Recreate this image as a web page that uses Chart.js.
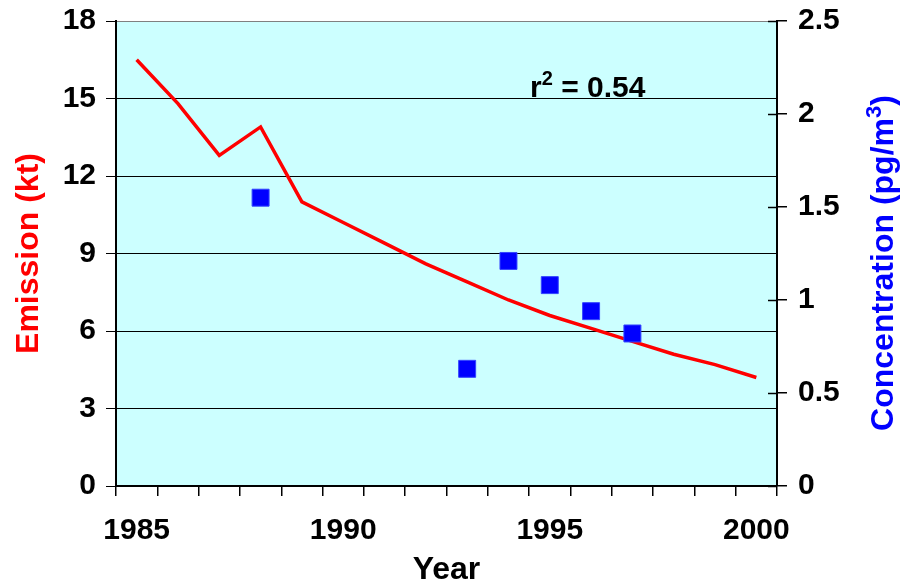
<!DOCTYPE html>
<html>
<head>
<meta charset="utf-8">
<script src="https://cdn.jsdelivr.net/npm/chart.js@4.4.1/dist/chart.umd.min.js"></script>
<style>
body{margin:0;background:#fff;}
#wrap{width:900px;height:586px;}
</style>
</head>
<body>
<div id="wrap"><canvas id="emChart" width="900" height="586"></canvas></div>
<script>
// data
const years = ["1985","1986","1987","1988","1989","1990","1991","1992","1993","1994","1995","1996","1997","1998","1999","2000"];
const emission = [16.5,14.8,12.8,13.9,11.0,10.2,9.4,8.6,7.9,7.2,6.6,6.1,5.6,5.1,4.7,4.2];
const concentration = [null,null,null,1.55,null,null,null,null,0.63,1.21,1.08,0.94,0.82,null,null,null];
const emissionTicks = [0,3,6,9,12,15,18];
const concTicks = [0,0.5,1,1.5,2,2.5];
const shownYears = ["1985","1990","1995","2000"];

const FONT = "'Liberation Sans', Arial, Helvetica, sans-serif";

// background of plot area, right title, r2 label, inner ticks of right axis
const extras = {
  id: "extras",
  beforeDraw(chart){
    const a = chart.chartArea, c = chart.ctx;
    c.save();
    c.fillStyle = "#CCFFFF";
    c.fillRect(a.left, a.top, a.right - a.left, a.bottom - a.top);
    c.restore();
  },
  afterDraw(chart){
    const a = chart.chartArea, c = chart.ctx;
    const y1 = chart.scales.y1;
    c.save();
    // inner half of right axis ticks
    c.strokeStyle = "#000";
    c.lineWidth = 1.5;
    y1.ticks.forEach(t => {
      const py = Math.round(y1.getPixelForValue(t.value)) + 0.5;
      c.beginPath();
      c.moveTo(a.right - 9, py);
      c.lineTo(a.right, py);
      c.stroke();
    });

    // r^2 label
    c.fillStyle = "#000";
    c.textBaseline = "alphabetic";
    c.textAlign = "left";
    let x = 530, by = 97;
    c.font = "bold 30px " + FONT;
    c.fillText("r", x, by);
    x += c.measureText("r").width;
    c.font = "bold 20px " + FONT;
    c.fillText("2", x, by - 12);
    x += c.measureText("2").width;
    c.font = "bold 30px " + FONT;
    c.fillText(" = 0.54", x, by);

    // right axis title, reading bottom to top
    c.translate(893, 263);
    c.rotate(-Math.PI / 2);
    c.fillStyle = "#0000FF";
    const p1 = "Concentration (pg/m", sup = "3", p3 = ")";
    c.font = "bold 32px " + FONT;
    const w1 = c.measureText(p1).width, w3 = c.measureText(p3).width;
    c.font = "bold 22px " + FONT;
    const w2 = c.measureText(sup).width;
    let sx = -(w1 + w2 + w3) / 2;
    c.font = "bold 32px " + FONT;
    c.fillText(p1, sx, 0);
    c.font = "bold 22px " + FONT;
    c.fillText(sup, sx + w1, -12);
    c.font = "bold 32px " + FONT;
    c.fillText(p3, sx + w1 + w2, 0);
    c.restore();
  }
};

new Chart(document.getElementById("emChart"), {
  type: "line",
  data: {
    labels: years,
    datasets: [
      {
        label: "Concentration",
        data: concentration,
        yAxisID: "y1",
        showLine: false,
        pointStyle: "rect",
        pointRadius: 12,
        pointBackgroundColor: "#0000FF",
        pointBorderColor: "#3344FF",
        pointBorderWidth: 1,
        order: 0
      },
      {
        label: "Emission",
        data: emission,
        yAxisID: "y",
        borderColor: "#FF0000",
        borderWidth: 3.5,
        pointRadius: 0,
        tension: 0,
        fill: false,
        order: 1
      }
    ]
  },
  options: {
    responsive: false,
    animation: false,
    layout: { padding: { top: 21, left: 0, right: 0, bottom: 0 } },
    plugins: { legend: { display: false }, tooltip: { enabled: false } },
    scales: {
      x: {
        offset: true,
        grid: { offset: true, drawOnChartArea: false, color: "#000", tickLength: 10, lineWidth: 1.5 },
        border: { color: "#000", width: 2 },
        ticks: {
          autoSkip: false, maxRotation: 0, color: "#000", padding: 17,
          font: { family: FONT, size: 30, weight: "bold" },
          callback(v){ const l = years[v]; return shownYears.includes(l) ? l : ""; }
        },
        title: { display: true, text: "Year", color: "#000", padding: 0,
                 font: { family: FONT, size: 32, weight: "bold", lineHeight: 1 } },
        afterFit(s){ s.height = 100; s.paddingLeft = 0; s.paddingRight = 0; }
      },
      y: {
        position: "left",
        min: 0, max: 18,
        afterBuildTicks(s){ s.ticks = emissionTicks.map(v => ({ value: v })); },
        grid: {
          color: ctx => ctx.tick && ctx.tick.value === 18 ? "#808080" : "#000",
          tickColor: "#000", tickLength: 10, lineWidth: 1
        },
        border: { color: "#000", width: 2 },
        ticks: { color: "#000", padding: 10, font: { family: FONT, size: 30, weight: "bold" } },
        title: { display: true, text: "Emission (kt)", color: "#FF0000", padding: { top: 13 },
                 font: { family: FONT, size: 32, weight: "bold", lineHeight: 1 } },
        afterFit(s){ s.width = 116; s.paddingTop = 0; s.paddingBottom = 0; }
      },
      y1: {
        position: "right",
        min: 0, max: 2.5,
        afterBuildTicks(s){ s.ticks = concTicks.map(v => ({ value: v })); },
        grid: { drawOnChartArea: false, color: "#000", tickLength: 10, lineWidth: 1.5 },
        border: { color: "#000", width: 2 },
        ticks: { color: "#000", padding: 11, font: { family: FONT, size: 30, weight: "bold" },
                 callback(v){ return String(v); } },
        afterFit(s){ s.width = 123; s.paddingTop = 0; s.paddingBottom = 0; }
      }
    }
  },
  plugins: [extras]
});
</script>
</body>
</html>
